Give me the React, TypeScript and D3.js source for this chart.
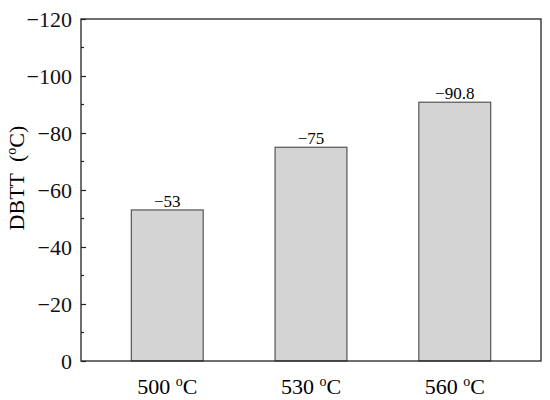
import { useEffect, useRef } from 'react';
import { axisLeft, range, scaleLinear, scalePoint, select } from 'd3';

const categories = ['500', '530', '560'];
const dbtt = [-53, -75, -90.8];
const valueLabels = ['−53', '−75', '−90.8'];
const yTicks = [0, -20, -40, -60, -80, -100, -120];

const FONT = '"Liberation Serif", "Times New Roman", serif';

export default function App() {
  const svgRef = useRef<SVGSVGElement>(null);

  useEffect(() => {
    const el = svgRef.current;
    if (!el) return;
    const svg = select(el);
    svg.selectAll('*').remove();

    const left = 81,
      right = 541,
      top = 19,
      bottom = 361;

    const x = scalePoint<string>().domain(categories).range([left, right]).padding(0.6);
    const y = scaleLinear().domain([0, -120]).range([bottom, top]);
    const barW = x.step() * 0.5;

    // bars
    svg
      .append('g')
      .selectAll('rect')
      .data(categories)
      .join('rect')
      .attr('x', (d) => (x(d) ?? 0) - barW / 2)
      .attr('y', (_, i) => y(dbtt[i]))
      .attr('width', barW)
      .attr('height', (_, i) => y(0) - y(dbtt[i]))
      .attr('fill', '#d4d4d4')
      .attr('stroke', '#555')
      .attr('stroke-width', 1.2);

    // value labels
    svg
      .append('g')
      .attr('font-family', FONT)
      .attr('font-size', 17)
      .attr('text-anchor', 'middle')
      .selectAll('text')
      .data(categories)
      .join('text')
      .attr('x', (d) => x(d) ?? 0)
      .attr('y', (_, i) => y(dbtt[i]) - 3)
      .text((_, i) => valueLabels[i]);

    // frame
    svg
      .append('rect')
      .attr('x', left)
      .attr('y', top)
      .attr('width', right - left)
      .attr('height', bottom - top)
      .attr('fill', 'none')
      .attr('stroke', '#222')
      .attr('stroke-width', 1.3);

    // y axis, major ticks
    const yAxis = svg
      .append('g')
      .attr('transform', `translate(${left},0)`)
      .call(
        axisLeft(y)
          .tickValues(yTicks)
          .tickSizeInner(-5)
          .tickSizeOuter(0)
          .tickPadding(9)
          .tickFormat((d) => (+d === 0 ? '0' : `−${Math.abs(+d)}`))
      );
    yAxis.select('.domain').remove();
    yAxis.selectAll('line').attr('stroke', '#222').attr('stroke-width', 1.2);
    yAxis
      .selectAll('text')
      .attr('font-family', FONT)
      .attr('font-size', 22)
      .attr('fill', '#111');

    // minor ticks
    svg
      .append('g')
      .selectAll('line')
      .data(range(-10, -120, -20))
      .join('line')
      .attr('x1', left)
      .attr('x2', left + 3)
      .attr('y1', (d) => y(d))
      .attr('y2', (d) => y(d))
      .attr('stroke', '#222')
      .attr('stroke-width', 1.2);

    // x labels
    const xl = svg
      .append('g')
      .attr('font-family', FONT)
      .attr('font-size', 22)
      .attr('text-anchor', 'middle')
      .selectAll('text')
      .data(categories)
      .join('text')
      .attr('x', (d) => x(d) ?? 0)
      .attr('y', 394);
    xl.append('tspan').text((d) => `${d} `);
    xl.append('tspan').attr('font-size', 14).attr('dy', -8).text('o');
    xl.append('tspan').attr('dy', 8).text('C');

    // y title
    const yt = svg
      .append('text')
      .attr('font-family', FONT)
      .attr('font-size', 22)
      .attr('text-anchor', 'middle')
      .attr('transform', 'translate(24,178) rotate(-90)');
    yt.append('tspan').text('DBTT\u2002(');
    yt.append('tspan').attr('font-size', 14).attr('dy', -8).text('o');
    yt.append('tspan').attr('dy', 8).text('C)');
  }, []);

  return (
    <svg
      ref={svgRef}
      width={550}
      height={400}
      style={{ position: 'absolute', left: 0, top: 0, background: 'white' }}
    />
  );
}
